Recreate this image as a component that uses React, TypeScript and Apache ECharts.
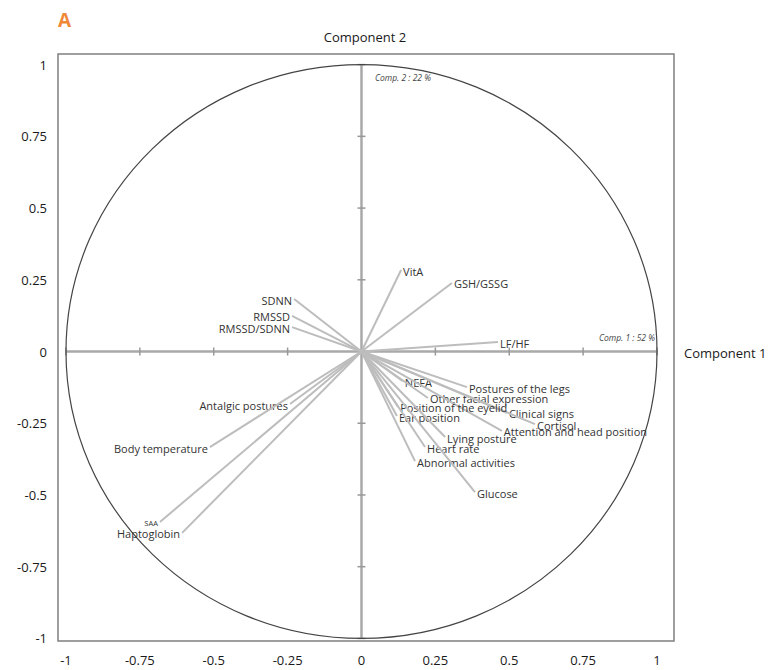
import React, { useEffect, useRef } from "react";
import * as echarts from "echarts";

// PCA correlation circle: variable loadings on component 1 (x) and component 2 (y)
const variableNames = [
  "VitA",
  "GSH/GSSG",
  "LF/HF",
  "SDNN",
  "RMSSD",
  "RMSSD/SDNN",
  "Antalgic postures",
  "Body temperature",
  "SAA",
  "Haptoglobin",
  "NEFA",
  "Postures of the legs",
  "Other facial expression",
  "Clinical signs",
  "Cortisol",
  "Attention and head position",
  "Position of the eyelid",
  "Ear position",
  "Lying posture",
  "Heart rate",
  "Abnormal activities",
  "Glucose",
];
const comp1Loadings = [
  0.134, 0.306, 0.462, -0.228, -0.235, -0.235, -0.242, -0.513, -0.682, -0.607,
  0.14, 0.357, 0.225, 0.492, 0.587, 0.475, 0.124, 0.12, 0.283, 0.215, 0.181, 0.384,
];
const comp2Loadings = [
  0.284, 0.239, 0.033, 0.183, 0.124, 0.085, -0.183, -0.333, -0.594, -0.632,
  -0.103, -0.124, -0.162, -0.214, -0.253, -0.277, -0.193, -0.225, -0.298, -0.333, -0.382, -0.49,
];
// which side of the arrow tip each label sits on
const labelSides = [
  "right", "right", "right", "left", "left", "left", "left", "left", "left", "left",
  "right", "right", "right", "right", "right", "right", "right", "right", "right", "right", "right", "right",
];

const tickValues = [-1, -0.75, -0.5, -0.25, 0, 0.25, 0.5, 0.75, 1];
const panelLetter = "A";
const axisTitleX = "Component 1";
const axisTitleY = "Component 2";
const comp1Share = "Comp. 1 : 52 %";
const comp2Share = "Comp. 2 : 22 %";

export default function App() {
  const ref = useRef<HTMLDivElement>(null);

  useEffect(() => {
    document.body.style.margin = "0";
    const chart = echarts.init(ref.current!, null, { renderer: "svg" });
    const fontFamily = "'Open Sans', sans-serif";
    const vectorData = variableNames.map((_, i) => [comp1Loadings[i], comp2Loadings[i], i]);
    const lastTick = tickValues[tickValues.length - 1];
    const firstTick = tickValues[0];

    chart.setOption({
      animation: false,
      grid: {
        left: 58,
        right: 102,
        top: 54,
        bottom: 29,
        show: true,
        borderColor: "#7f7f7f",
        borderWidth: 1.5,
        backgroundColor: "transparent",
        containLabel: false,
        outerBoundsMode: "none",
      },
      xAxis: {
        type: "value",
        min: -1.027,
        max: 1.0575,
        axisLine: { show: false },
        axisTick: { show: false },
        splitLine: { show: false },
        axisLabel: {
          customValues: tickValues,
          margin: 12,
          fontSize: 13,
          color: "#1a1a1a",
          fontFamily,
          formatter: (v: number) => String(v),
        },
      },
      yAxis: {
        type: "value",
        min: -1.009,
        max: 1.037,
        axisLine: { show: false },
        axisTick: { show: false },
        splitLine: { show: false },
        axisLabel: {
          customValues: tickValues,
          margin: 11,
          fontSize: 13,
          color: "#1a1a1a",
          fontFamily,
          formatter: (v: number) => String(v),
        },
      },
      series: [
        {
          type: "custom",
          coordinateSystem: "cartesian2d",
          silent: true,
          data: [[0, 0]],
          z: 1,
          renderItem: (_params: any, api: any) => {
            const children: any[] = [];
            const a = api.coord([firstTick, 0]);
            const b = api.coord([lastTick, 0]);
            const c = api.coord([0, firstTick]);
            const d = api.coord([0, lastTick]);
            const axisStyle = { stroke: "#a9a9a9", lineWidth: 2.5 };
            children.push({ type: "line", shape: { x1: a[0], y1: a[1], x2: b[0], y2: b[1] }, style: axisStyle });
            children.push({ type: "line", shape: { x1: c[0], y1: c[1], x2: d[0], y2: d[1] }, style: axisStyle });
            tickValues.forEach((v) => {
              if (v === 0) return;
              const p = api.coord([v, 0]);
              children.push({
                type: "line",
                shape: { x1: p[0], y1: p[1] - 4, x2: p[0], y2: p[1] + 4 },
                style: { stroke: "#999", lineWidth: 1.5 },
              });
              const q = api.coord([0, v]);
              children.push({
                type: "line",
                shape: { x1: q[0] - 4, y1: q[1], x2: q[0] + 4, y2: q[1] },
                style: { stroke: "#999", lineWidth: 1.5 },
              });
            });
            return { type: "group", children };
          },
        },
        {
          type: "custom",
          coordinateSystem: "cartesian2d",
          silent: true,
          data: [[0, 0]],
          z: 2,
          renderItem: (_params: any, api: any) => {
            const c = api.coord([0, 0]);
            const r = api.coord([1, 1]);
            return {
              type: "ellipse",
              shape: { cx: c[0], cy: c[1], rx: r[0] - c[0], ry: c[1] - r[1] },
              style: { fill: "none", stroke: "#444", lineWidth: 1.2 },
            };
          },
        },
        {
          type: "custom",
          coordinateSystem: "cartesian2d",
          silent: true,
          data: vectorData,
          encode: { x: 0, y: 1 },
          z: 3,
          renderItem: (_params: any, api: any) => {
            const i = api.value(2);
            const p0 = api.coord([0, 0]);
            const p1 = api.coord([api.value(0), api.value(1)]);
            const left = labelSides[i] === "left";
            const small = variableNames[i] === "SAA";
            return {
              type: "group",
              children: [
                {
                  type: "line",
                  shape: { x1: p0[0], y1: p0[1], x2: p1[0], y2: p1[1] },
                  style: { stroke: "#bdbdbd", lineWidth: 2 },
                },
                {
                  type: "text",
                  x: p1[0] + (left ? -2 : 2),
                  y: p1[1] + 1,
                  style: {
                    text: variableNames[i],
                    fill: "#333",
                    font: `${small ? 7.5 : 11}px ${fontFamily}`,
                    align: left ? "right" : "left",
                    verticalAlign: "middle",
                  },
                },
              ],
            };
          },
        },
      ],
      graphic: [
        {
          type: "text",
          x: 58,
          y: 10,
          style: { text: panelLetter, fill: "#f0883a", font: `bold 19px ${fontFamily}` },
        },
        {
          type: "text",
          x: 365,
          y: 37,
          style: { text: axisTitleY, fill: "#1a1a1a", font: `13px ${fontFamily}`, align: "center", verticalAlign: "middle" },
        },
        {
          type: "text",
          x: 684,
          y: 353,
          style: { text: axisTitleX, fill: "#1a1a1a", font: `13px ${fontFamily}`, align: "left", verticalAlign: "middle" },
        },
        {
          type: "text",
          x: 375,
          y: 77,
          style: { text: comp2Share, fill: "#444", font: `italic 8.5px ${fontFamily}`, align: "left", verticalAlign: "middle" },
        },
        {
          type: "text",
          x: 655,
          y: 337,
          style: { text: comp1Share, fill: "#444", font: `italic 8.5px ${fontFamily}`, align: "right", verticalAlign: "middle" },
        },
      ],
    });

    return () => chart.dispose();
  }, []);

  return <div ref={ref} style={{ width: 776, height: 670 }} />;
}
